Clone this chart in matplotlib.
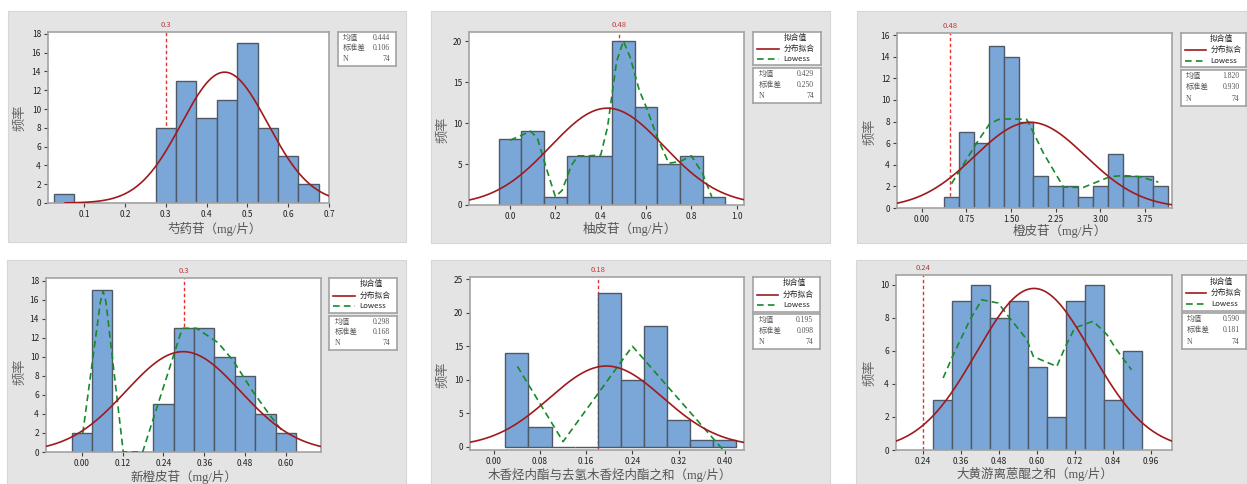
import numpy as np
import matplotlib
matplotlib.use('Agg')
import matplotlib.pyplot as plt
from matplotlib.patches import Rectangle
from matplotlib.lines import Line2D
import matplotlib.transforms as mtransforms

plt.rcParams['font.family'] = ['Noto Sans CJK SC', 'DejaVu Sans']

# ---------------- 数据 ----------------
# 1 芍药苷
p1_centers = [0.05, 0.10, 0.15, 0.20, 0.25, 0.30, 0.35, 0.40, 0.45, 0.50, 0.55, 0.60, 0.65]
p1_counts = [1, 0, 0, 0, 0, 8, 13, 9, 11, 17, 8, 5, 2]
p1_stats = (0.444, 0.106, 74)

# 2 柚皮苷
p2_centers = [0.0, 0.1, 0.2, 0.3, 0.4, 0.5, 0.6, 0.7, 0.8, 0.9]
p2_counts = [8, 9, 1, 6, 6, 20, 12, 5, 6, 1]
p2_stats = (0.429, 0.250, 74)
p2_low_x = [0.0, 0.05, 0.09, 0.12, 0.16, 0.20, 0.23, 0.27, 0.30, 0.35, 0.40, 0.43, 0.47, 0.50, 0.53, 0.57, 0.60, 0.65, 0.70, 0.75, 0.80, 0.85, 0.89]
p2_low_y = [7.9, 8.5, 9.0, 8.2, 4.5, 1.0, 1.8, 4.8, 6.0, 6.0, 6.1, 9.5, 17.5, 20.0, 18.0, 14.0, 12.0, 8.2, 5.1, 5.3, 6.0, 3.8, 1.0]

# 3 橙皮苷
p3_centers = [0.50, 0.75, 1.00, 1.25, 1.50, 1.75, 2.00, 2.25, 2.50, 2.75, 3.00, 3.25, 3.50, 3.75, 4.00]
p3_counts = [1, 7, 6, 15, 14, 8, 3, 2, 2, 1, 2, 5, 3, 3, 2]
p3_stats = (1.820, 0.930, 74)
p3_low_x = [0.50, 0.92, 1.14, 1.29, 1.50, 1.76, 1.82, 2.04, 2.38, 2.71, 3.16, 3.38, 3.66, 3.97]
p3_low_y = [2.25, 6.0, 7.8, 8.2, 8.25, 8.2, 7.6, 5.1, 1.93, 1.9, 2.9, 3.0, 2.9, 2.4]

# 4 新橙皮苷
p4_centers = [0.00, 0.06, 0.12, 0.18, 0.24, 0.30, 0.36, 0.42, 0.48, 0.54, 0.60]
p4_counts = [2, 17, 0, 0, 5, 13, 13, 10, 8, 4, 2]
p4_stats = (0.298, 0.168, 74)
p4_low_x = [0.003, 0.055, 0.063, 0.071, 0.122, 0.179, 0.29, 0.298, 0.337, 0.40, 0.445, 0.50, 0.55, 0.592]
p4_low_y = [1.96, 15.8, 16.9, 15.8, 0.0, 0.0, 12.4, 13.0, 13.0, 11.5, 9.6, 6.5, 4.0, 2.07]

# 5 木香烃内酯与去氢木香烃内酯之和
p5_centers = [0.04, 0.08, 0.12, 0.16, 0.20, 0.24, 0.28, 0.32, 0.36, 0.40]
p5_counts = [14, 3, 0, 0, 23, 10, 18, 4, 1, 1]
p5_stats = (0.195, 0.098, 74)
p5_low_x = [0.041, 0.12, 0.24, 0.397]
p5_low_y = [12.0, 0.75, 15.0, -0.5]

# 6 大黄游离蒽醌之和
p6_centers = [0.30, 0.36, 0.42, 0.48, 0.54, 0.60, 0.66, 0.72, 0.78, 0.84, 0.90]
p6_counts = [3, 9, 10, 8, 9, 5, 2, 9, 10, 3, 6]
p6_stats = (0.590, 0.181, 74)
p6_low_x = [0.303, 0.33, 0.388, 0.425, 0.477, 0.509, 0.567, 0.588, 0.662, 0.69, 0.719, 0.777, 0.82, 0.851, 0.898]
p6_low_y = [4.36, 5.56, 7.9, 9.1, 8.9, 8.1, 6.7, 5.66, 5.06, 6.3, 7.4, 7.8, 7.0, 6.07, 4.86]

# ---------------- 样式 ----------------
W, H = 1247, 484
PANEL = '#e4e4e4'
BAR = '#7ba7d8'
EDGE = '#4f5966'
FIT = '#a01a1c'
LOW = '#178a2a'
REF = '#e03535'
REFTXT = '#b83a3a'
SPINE = '#a3a3a3'
MIXED = ['Liberation Serif', 'Noto Sans CJK SC']

fig = plt.figure(figsize=(W / 100, H / 100), dpi=100)
fig.patch.set_facecolor('white')


def box(x0, y0, x1, y1):
    return [x0 / W, 1 - y1 / H, (x1 - x0) / W, (y1 - y0) / H]


def frame(ax):
    for s in ax.spines.values():
        s.set_color(SPINE)
        s.set_linewidth(1.2)


def legend_box(px):
    lg = fig.add_axes(box(*px))
    lg.set_xlim(0, 1)
    lg.set_ylim(0, 1)
    lg.set_xticks([])
    lg.set_yticks([])
    frame(lg)
    lg.text(0.62, 0.82, '拟合值', ha='center', va='center', fontsize=5.6, color='#222')
    lg.add_line(Line2D([0.06, 0.38], [0.5, 0.5], color=FIT, lw=1.2))
    lg.text(0.45, 0.5, '分布拟合', ha='left', va='center', fontsize=5.6, color='#222')
    lg.add_line(Line2D([0.06, 0.38], [0.19, 0.19], color=LOW, lw=1.2, ls=(0, (4, 2.5))))
    lg.text(0.45, 0.19, 'Lowess', ha='left', va='center', fontsize=5.6, color='#222')


def stats_box(px, stats):
    sb = fig.add_axes(box(*px))
    sb.set_xlim(0, 1)
    sb.set_ylim(0, 1)
    sb.set_xticks([])
    sb.set_yticks([])
    frame(sb)
    mean, sd, n = stats
    rows = [('均值', f'{mean:.3f}'), ('标准差', f'{sd:.3f}'), ('N', f'{n}')]
    for (lab, val), yy in zip(rows, [0.83, 0.52, 0.2]):
        sb.text(0.08, yy, lab, ha='left', va='center', fontsize=5.5, color='#555', family=MIXED)
        sb.text(0.9, yy, val, ha='right', va='center', fontsize=5.5, color='#555', family=MIXED)


def panel(bg, ax_px, centers, counts, width, stats, ref, ref_txt, xlim, xticks, xfmt,
          ylim, yticks, xlabel, xlab_xy, ylab_xy, stats_px, legend_px=None,
          low_x=None, low_y=None, curve_from=None):
    fig.patches.append(Rectangle((bg[0] / W, 1 - bg[3] / H), (bg[2] - bg[0]) / W, (bg[3] - bg[1]) / H,
                                 transform=fig.transFigure, facecolor=PANEL,
                                 edgecolor='#d6d6d6', lw=0.8, zorder=-10))
    ax = fig.add_axes(box(*ax_px))
    ax.set_facecolor('white')
    ax.axvline(ref, color=REF, ls=(0, (2.5, 1.8)), lw=1.0, zorder=1)
    ax.bar(centers, counts, width=width, color=BAR, edgecolor=EDGE, linewidth=1.0, zorder=2)

    mean, sd, n = stats
    lo = xlim[0] if curve_from is None else curve_from
    xs = np.linspace(lo, xlim[1], 400)
    ys = n * width / (sd * np.sqrt(2 * np.pi)) * np.exp(-0.5 * ((xs - mean) / sd) ** 2)
    ax.plot(xs, ys, color=FIT, lw=1.2, zorder=4)
    if low_x is not None:
        ax.plot(low_x, low_y, color=LOW, lw=1.2, ls=(0, (4, 2.5)), zorder=3)

    ax.set_xlim(*xlim)
    ax.set_ylim(*ylim)
    ax.set_xticks(xticks)
    ax.set_xticklabels([xfmt.format(v) for v in xticks])
    ax.set_yticks(yticks)
    ax.tick_params(direction='out', length=3, width=0.8, color='#404040',
                   labelsize=6, labelcolor='#222', pad=2)
    frame(ax)

    trans = mtransforms.blended_transform_factory(ax.transData, ax.transAxes)
    ax.annotate(ref_txt, xy=(ref, 1.0), xycoords=trans, xytext=(0, 2), textcoords='offset points',
                ha='center', va='bottom', fontsize=5.5, color=REFTXT)

    fig.text(xlab_xy[0] / W, 1 - xlab_xy[1] / H, xlabel, ha='center', va='center',
             fontsize=9, color='#555', family=MIXED)
    fig.text(ylab_xy[0] / W, 1 - ylab_xy[1] / H, '频率', ha='center', va='center',
             fontsize=9.5, color='#666', rotation=90)

    if legend_px is not None:
        legend_box(legend_px)
    stats_box(stats_px, stats)


panel((8, 11, 406, 242), (48, 32, 329, 203), p1_centers, p1_counts, 0.05, p1_stats,
      0.3, '0.3', (0.011, 0.7), [0.1, 0.2, 0.3, 0.4, 0.5, 0.6, 0.7], '{:.1f}',
      (0, 18.2), list(range(0, 19, 2)), '芍药苷（mg/片）', (214, 229), (20, 118),
      (338, 32, 396, 66), curve_from=0.053)

panel((431, 11, 830, 243), (469, 32, 744, 205), p2_centers, p2_counts, 0.1, p2_stats,
      0.48, '0.48', (-0.181, 1.032), [0.0, 0.2, 0.4, 0.6, 0.8, 1.0], '{:.1f}',
      (0, 21.1), [0, 5, 10, 15, 20], '柚皮苷（mg/片）', (630, 229), (443, 130),
      (753, 68, 821, 103), legend_px=(753, 32, 821, 65), low_x=p2_low_x, low_y=p2_low_y)

panel((857, 11, 1247, 243), (897, 33, 1172, 208), p3_centers, p3_counts, 0.25, p3_stats,
      0.48, '0.48', (-0.415, 4.20), [0.0, 0.75, 1.5, 2.25, 3.0, 3.75], '{:.2f}',
      (0, 16.2), list(range(0, 17, 2)), '橙皮苷（mg/片）', (1060, 231), (870, 132),
      (1181, 70, 1246, 106), legend_px=(1181, 33, 1246, 67), low_x=p3_low_x, low_y=p3_low_y)

panel((7, 260, 406, 484), (46, 278, 321, 452), p4_centers, p4_counts, 0.06, p4_stats,
      0.3, '0.3', (-0.105, 0.703), [0.0, 0.12, 0.24, 0.36, 0.48, 0.60], '{:.2f}',
      (0, 18.28), list(range(0, 19, 2)), '新橙皮苷（mg/片）', (184, 477), (20, 372),
      (329, 316, 397, 350), legend_px=(329, 278, 397, 313), low_x=p4_low_x, low_y=p4_low_y)

panel((431, 260, 830, 484), (470, 277, 744, 450), p5_centers, p5_counts, 0.04, p5_stats,
      0.18, '0.18', (-0.041, 0.433), [0.0, 0.08, 0.16, 0.24, 0.32, 0.40], '{:.2f}',
      (-0.5, 25.35), [0, 5, 10, 15, 20, 25], '木香烃内酯与去氢木香烃内酯之和（mg/片）', (610, 475),
      (443, 375), (753, 314, 820, 349), legend_px=(753, 277, 820, 312),
      low_x=p5_low_x, low_y=p5_low_y)

panel((856, 260, 1247, 484), (896, 275, 1172, 450), p6_centers, p6_counts, 0.06, p6_stats,
      0.24, '0.24', (0.154, 1.026), [0.24, 0.36, 0.48, 0.60, 0.72, 0.84, 0.96], '{:.2f}',
      (0, 10.6), [0, 2, 4, 6, 8, 10], '大黄游离蒽醌之和（mg/片）', (1035, 474), (870, 373),
      (1182, 313, 1246, 349), legend_px=(1182, 275, 1246, 311), low_x=p6_low_x, low_y=p6_low_y)

fig.savefig('out.png', dpi=100, facecolor='white')
